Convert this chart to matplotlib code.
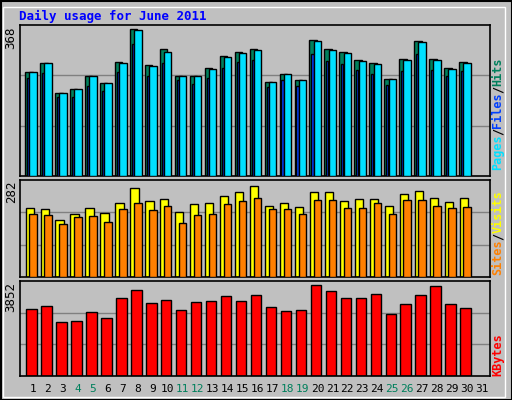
import matplotlib
matplotlib.use("Agg")
import matplotlib.pyplot as plt
from matplotlib.patches import Rectangle

days = list(range(1, 32))
bar_days = list(range(1, 31))
hits  = [261,284,209,219,251,234,286,368,277,318,251,251,270,300,310,318,236,256,241,340,317,310,290,282,244,292,338,292,270,285]
pages = [260,283,208,218,250,233,283,366,275,310,250,250,268,298,308,315,235,255,240,338,315,308,288,280,243,290,335,290,268,283]
files = [245,258,198,198,225,213,260,330,250,282,240,230,245,270,285,290,222,240,226,305,288,280,265,255,228,262,305,265,250,262]
visits = [208,205,172,190,208,193,222,267,228,234,196,219,222,243,255,272,214,223,211,255,255,229,234,234,214,249,258,237,226,237]
sites  = [188,187,160,181,184,166,205,222,202,213,163,187,190,219,228,237,203,203,188,232,232,208,208,223,188,232,232,214,208,211]
kbytes = [2827,2954,2279,2321,2701,2448,3292,3629,3081,3207,2785,3123,3165,3376,3165,3418,2924,2756,2798,3852,3600,3304,3304,3473,2629,3051,3431,3811,3051,2882]
weekend = [4,5,11,12,18,19,25,26]

BG = "#C0C0C0"
W, H = 512, 400
fig = plt.figure(figsize=(5.12, 4.0), dpi=100, facecolor=BG)
mono = "DejaVu Sans Mono"

def px_axes(x0, y0, x1, y1):
    return fig.add_axes([x0 / W, 1 - y1 / H, (x1 - x0) / W, (y1 - y0) / H])

fig.add_artist(Rectangle((0.5/W, 0.5/H), 1 - 1/W, 1 - 1/H, transform=fig.transFigure,
                         fill=False, edgecolor="black", lw=1.5))
fig.add_artist(Rectangle((3/W, 3/H), 1 - 10/W, 1 - 10/H, transform=fig.transFigure,
                         fill=False, edgecolor="white", lw=1))
fig.text(19/W, 1 - 16/H, "Daily usage for June 2011", color="#0000FF", fontsize=9,
         fontweight="bold", family=mono, va="center", ha="left")

xlim = (0.13, 31.53)

def setup(ax, top, label):
    ax.set_facecolor(BG)
    ax.set_xlim(*xlim)
    ax.set_ylim(0, top)
    ax.set_xticks([]); ax.set_yticks([])
    for s in ax.spines.values():
        s.set_color("black"); s.set_linewidth(1.2)
    for f in (1/3, 2/3):
        ax.axhline(top * f, color="#808080", lw=1, zorder=0)
    ax.text(-0.005, 0.99, label, transform=ax.transAxes, rotation=90, ha="right", va="top",
            fontsize=9, family=mono)

ek = dict(edgecolor="black", linewidth=1)

ax1 = px_axes(20, 25, 490, 176)
setup(ax1, 368 * 151 / 147, "368")
ax1.bar([d - 0.53 for d in bar_days], hits, width=0.5, align="edge", color="#00805C", **ek, zorder=2)
ax1.bar([d - 0.40 for d in bar_days], files, width=0.14, align="edge", color="#0040FF", **ek, zorder=3)
ax1.bar([d - 0.25 for d in bar_days], pages, width=0.5, align="edge", color="#00E0FF", **ek, zorder=4)

ax2 = px_axes(20, 180, 490, 277)
setup(ax2, 282 * 96 / 93, "282")
ax2.bar([d - 0.50 for d in bar_days], visits, width=0.55, align="edge", color="#FFFF00", **ek, zorder=2)
ax2.bar([d - 0.25 for d in bar_days], sites, width=0.5, align="edge", color="#FF8000", **ek, zorder=3)

ax3 = px_axes(20, 281, 490, 376)
setup(ax3, 3852 * 95 / 91, "3852")
ax3.bar([d - 0.45 for d in bar_days], kbytes, width=0.7, align="edge", color="#FF0000", **ek, zorder=2)

for d in days:
    x = (d - xlim[0]) / (xlim[1] - xlim[0])
    ax3.text(x, -0.14, str(d), transform=ax3.transAxes, ha="center", va="center", fontsize=8,
             family=mono, color="#00805C" if d in weekend else "black")

def right_label(parts, y):
    fs = 8.5
    cw = 7.0
    ypix = y
    for txt, col in parts:
        fig.text(498/W, 1 - ypix/H, txt, rotation=90, color=col, fontsize=fs, family=mono,
                 ha="center", va="bottom", fontweight="bold")
        ypix -= len(txt) * cw

right_label([("Pages", "#00E0FF"), ("/", "black"), ("Files", "#0040FF"), ("/", "black"), ("Hits", "#00805C")], 170)
right_label([("Sites", "#FF8000"), ("/", "black"), ("Visits", "#FFFF00")], 275)
right_label([("KBytes", "#FF0000")], 376)

fig.savefig("out.png", dpi=100, facecolor=BG)
